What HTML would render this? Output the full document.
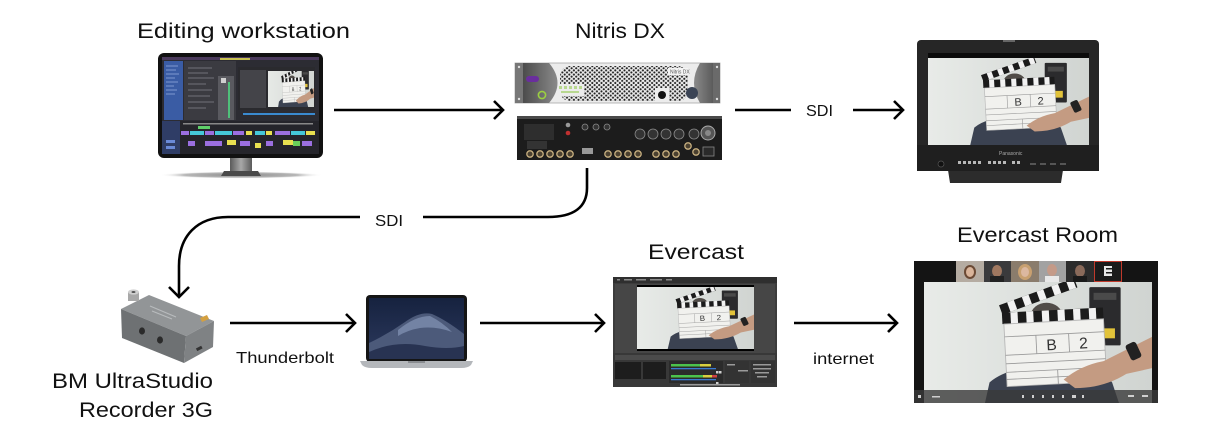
<!DOCTYPE html>
<html><head><meta charset="utf-8">
<style>
html,body{margin:0;padding:0;background:#fff;}
svg{display:block;}
.t{font-family:"Liberation Sans",Arial,sans-serif;fill:#111;}
</style></head>
<body>
<svg width="1227" height="441" viewBox="0 0 1227 441" xmlns="http://www.w3.org/2000/svg" xmlns:xlink="http://www.w3.org/1999/xlink">
<defs>
  <linearGradient id="sbg" x1="0" x2="1" y1="0" y2="0">
    <stop offset="0" stop-color="#e8ebe8"/><stop offset="1" stop-color="#d0d4d1"/>
  </linearGradient>
  <linearGradient id="neck" x1="0" x2="1">
    <stop offset="0" stop-color="#5a5a5a"/><stop offset="0.5" stop-color="#a8a8a8"/><stop offset="1" stop-color="#5a5a5a"/>
  </linearGradient>
  <radialGradient id="shadow" cx="0.5" cy="0.5" r="0.5">
    <stop offset="0" stop-color="#8a8a8a"/><stop offset="0.7" stop-color="#b8b8b8"/><stop offset="1" stop-color="#ffffff" stop-opacity="0"/>
  </radialGradient>
  <linearGradient id="ldark" x1="0" x2="1">
    <stop offset="0" stop-color="#4a4a4a"/><stop offset="1" stop-color="#8a8a8a"/>
  </linearGradient>
  <linearGradient id="rdark" x1="0" x2="1">
    <stop offset="0" stop-color="#8a8a8a"/><stop offset="1" stop-color="#4a4a4a"/>
  </linearGradient>
  <pattern id="dots" width="4.6" height="4.2" patternUnits="userSpaceOnUse">
    <circle cx="1.2" cy="1.1" r="1.05" fill="#222"/>
    <circle cx="3.5" cy="3.2" r="1.05" fill="#222"/>
  </pattern>
  <linearGradient id="sky" x1="0" y1="0" x2="0" y2="1">
    <stop offset="0" stop-color="#16223f"/><stop offset="1" stop-color="#2c3a5e"/>
  </linearGradient>
  <clipPath id="roomclip"><rect x="924" y="282" width="228" height="121"/></clipPath>
  <clipPath id="viewclip"><rect x="268" y="71" width="46" height="36"/></clipPath>

  <symbol id="scene" viewBox="0 0 160 90" preserveAspectRatio="none">
    <rect width="160" height="90" fill="url(#sbg)"/>
    <path d="M46,72 Q60,60 90,61 Q122,59 132,72 L138,90 L42,90 Z" fill="#3b4251"/>
    <ellipse cx="86" cy="25" rx="11" ry="9" fill="#514c48"/>
    <rect x="116" y="5" width="22" height="41" rx="1" fill="#2b2b2d"/>
    <rect x="119" y="9" width="16" height="5" fill="#4a4a4a"/>
    <rect x="124" y="34" width="10" height="7" fill="#e2c33a"/>
    <g transform="rotate(-20 56 24)">
      <rect x="55" y="17" width="56" height="7" fill="#1b1b1b"/>
      <rect x="61" y="17" width="5" height="7" fill="#f2f2f2"/>
      <rect x="72" y="17" width="5" height="7" fill="#f2f2f2"/>
      <rect x="83" y="17" width="5" height="7" fill="#f2f2f2"/>
      <rect x="94" y="17" width="5" height="7" fill="#f2f2f2"/>
      <rect x="105" y="17" width="5" height="7" fill="#f2f2f2"/>
    </g>
    <g transform="rotate(-3 56 30)">
      <rect x="55" y="23" width="71" height="8" fill="#1b1b1b"/>
      <rect x="61" y="23" width="5" height="8" fill="#f2f2f2"/>
      <rect x="72" y="23" width="5" height="8" fill="#f2f2f2"/>
      <rect x="83" y="23" width="5" height="8" fill="#f2f2f2"/>
      <rect x="94" y="23" width="5" height="8" fill="#f2f2f2"/>
      <rect x="105" y="23" width="5" height="8" fill="#f2f2f2"/>
      <rect x="116" y="23" width="5" height="8" fill="#f2f2f2"/>
      <rect x="56" y="31" width="70" height="44" fill="#f1f1ee" stroke="#b5b5b5" stroke-width="0.6"/>
      <line x1="56" y1="40" x2="126" y2="40" stroke="#999" stroke-width="0.6"/>
      <line x1="56" y1="53" x2="126" y2="53" stroke="#999" stroke-width="0.6"/>
      <line x1="56" y1="59" x2="126" y2="59" stroke="#999" stroke-width="0.6"/>
      <line x1="56" y1="65" x2="126" y2="65" stroke="#999" stroke-width="0.6"/>
      <line x1="56" y1="70" x2="126" y2="70" stroke="#999" stroke-width="0.6"/>
      <line x1="78" y1="40" x2="78" y2="53" stroke="#999" stroke-width="0.6"/>
      <line x1="101" y1="40" x2="101" y2="53" stroke="#999" stroke-width="0.6"/>
      <line x1="92" y1="65" x2="92" y2="75" stroke="#999" stroke-width="0.6"/>
      <text x="85" y="51" font-family="Liberation Sans, sans-serif" font-size="11" fill="#333">B</text>
      <text x="108" y="51" font-family="Liberation Sans, sans-serif" font-size="11" fill="#333">2</text>
    </g>
    <path d="M98,70 Q110,60 126,57 L146,47 L160,40 L160,62 L142,66 Q126,76 106,76 Z" fill="#c49b82"/>
    <rect x="143" y="44" width="8" height="12" rx="2" fill="#222" transform="rotate(-25 147 50)"/>
  </symbol>
</defs>

<rect width="1227" height="441" fill="#fff"/>

<!-- ===== Titles ===== -->
<text class="t" x="137" y="38" font-size="21" textLength="213" lengthAdjust="spacingAndGlyphs">Editing workstation</text>
<text class="t" x="575" y="38" font-size="21" textLength="90" lengthAdjust="spacingAndGlyphs">Nitris DX</text>
<text class="t" x="648" y="259" font-size="21" textLength="96" lengthAdjust="spacingAndGlyphs">Evercast</text>
<text class="t" x="957" y="242" font-size="21" textLength="161" lengthAdjust="spacingAndGlyphs">Evercast Room</text>
<text class="t" x="52" y="388" font-size="21" textLength="161" lengthAdjust="spacingAndGlyphs">BM UltraStudio</text>
<text class="t" x="79" y="417" font-size="21" textLength="134" lengthAdjust="spacingAndGlyphs">Recorder 3G</text>

<!-- ===== Labels ===== -->
<text class="t" x="806" y="116" font-size="16" textLength="27" lengthAdjust="spacingAndGlyphs">SDI</text>
<text class="t" x="375" y="226" font-size="16" textLength="28" lengthAdjust="spacingAndGlyphs">SDI</text>
<text class="t" x="236" y="363" font-size="16" textLength="98" lengthAdjust="spacingAndGlyphs">Thunderbolt</text>
<text class="t" x="813" y="364" font-size="16" textLength="61" lengthAdjust="spacingAndGlyphs">internet</text>

<!-- ===== Connectors ===== -->
<g fill="none" stroke="#000" stroke-width="2.6" stroke-linecap="butt" stroke-linejoin="miter">
  <path d="M334,110 H503"/><path d="M494,101 L503,110 L494,119"/>
  <path d="M735,110 H791"/>
  <path d="M853,110 H903"/><path d="M894,101 L903,110 L894,119"/>
  <path d="M587,168 V188 C587,207 574,217 548,217 H423"/>
  <path d="M360,217 H228 C197,217 179,236 179,266 V297"/>
  <path d="M169,287 L179,297 L189,287"/>
  <path d="M230,323 H355"/><path d="M346,314 L355,323 L346,332"/>
  <path d="M480,323 H604"/><path d="M595,314 L604,323 L595,332"/>
  <path d="M794,323 H897"/><path d="M888,314 L897,323 L888,332"/>
</g>

<!-- ===== Editing workstation (monitor) ===== -->
<ellipse cx="241" cy="175" rx="82" ry="3.5" fill="url(#shadow)"/>
<rect x="230" y="157" width="22" height="14" fill="url(#neck)"/>
<path d="M224,171 H258 L261,176 H221 Z" fill="#4a4a4a"/>
<rect x="158" y="53" width="165" height="105" rx="6" fill="#111"/>
<rect x="162" y="57" width="157" height="97" fill="#2c2c33"/>
<rect x="162" y="57" width="157" height="3" fill="#4b3a5c"/>
<rect x="220" y="58" width="30" height="2" fill="#c8c050"/>
<rect x="164" y="61" width="19" height="59" fill="#3a5ca4"/>
<g stroke="#8fa8dd" stroke-width="0.8">
  <line x1="166" y1="66" x2="178" y2="66"/><line x1="166" y1="70" x2="176" y2="70"/>
  <line x1="166" y1="74" x2="179" y2="74"/><line x1="166" y1="78" x2="175" y2="78"/>
  <line x1="166" y1="82" x2="178" y2="82"/><line x1="166" y1="86" x2="174" y2="86"/>
  <line x1="166" y1="90" x2="177" y2="90"/><line x1="166" y1="94" x2="175" y2="94"/>
</g>
<rect x="184" y="61" width="52" height="59" fill="#3b3b41"/>
<g stroke="#85858c" stroke-width="0.7">
  <line x1="188" y1="68" x2="212" y2="68"/><line x1="188" y1="73" x2="208" y2="73"/>
  <line x1="188" y1="78" x2="214" y2="78"/><line x1="188" y1="84" x2="206" y2="84"/>
  <line x1="188" y1="90" x2="212" y2="90"/><line x1="188" y1="96" x2="210" y2="96"/>
  <line x1="188" y1="102" x2="214" y2="102"/><line x1="188" y1="108" x2="206" y2="108"/>
</g>
<rect x="218" y="76" width="16" height="44" fill="#5a5a60"/>
<rect x="221" y="78" width="5" height="5" fill="#d0d0d0"/>
<rect x="228" y="82" width="2" height="36" fill="#4fc07a"/>
<rect x="238" y="67" width="77" height="43" fill="#2a2a2e"/>
<rect x="240" y="70" width="26" height="38" fill="#444449"/>
<g clip-path="url(#viewclip)"><use xlink:href="#scene" href="#scene" x="264" y="68" width="52" height="42"/></g>
<rect x="243" y="113" width="72" height="2" fill="#3a8ad0"/>
<rect x="162" y="121" width="157" height="33" fill="#25252b"/>
<rect x="162" y="121" width="18" height="33" fill="#2f3d66"/>
<rect x="183" y="123" width="130" height="1.5" fill="#888"/>
<rect x="198" y="126" width="12" height="3" fill="#5fd06a"/>
<g>
  <rect x="181" y="131" width="8" height="4" fill="#9b6fe0"/>
  <rect x="190" y="131" width="14" height="4" fill="#45c8d8"/>
  <rect x="205" y="131" width="9" height="4" fill="#9b6fe0"/>
  <rect x="215" y="131" width="17" height="4" fill="#45c8d8"/>
  <rect x="233" y="131" width="11" height="4" fill="#9b6fe0"/>
  <rect x="246" y="131" width="6" height="4" fill="#e8e050"/>
  <rect x="255" y="131" width="10" height="4" fill="#45c8d8"/>
  <rect x="266" y="131" width="6" height="4" fill="#e8e050"/>
  <rect x="275" y="131" width="15" height="4" fill="#9b6fe0"/>
  <rect x="291" y="131" width="14" height="4" fill="#45c8d8"/>
  <rect x="306" y="131" width="9" height="4" fill="#e8e050"/>
  <rect x="188" y="141" width="7" height="5" fill="#9b6fe0"/>
  <rect x="205" y="141" width="17" height="5" fill="#9b6fe0"/>
  <rect x="227" y="140" width="9" height="5" fill="#e8e050"/>
  <rect x="240" y="141" width="10" height="5" fill="#9b6fe0"/>
  <rect x="255" y="143" width="6" height="5" fill="#e8e050"/>
  <rect x="266" y="141" width="7" height="5" fill="#9b6fe0"/>
  <rect x="283" y="140" width="10" height="5" fill="#e8e050"/>
  <rect x="293" y="141" width="7" height="5" fill="#6ad05a"/>
  <rect x="302" y="141" width="10" height="5" fill="#9b6fe0"/>
  <rect x="166" y="140" width="9" height="3" fill="#6a8ad8"/>
  <rect x="166" y="146" width="9" height="3" fill="#6a8ad8"/>
</g>

<!-- ===== Nitris DX front ===== -->
<rect x="515" y="63" width="205" height="40" fill="#ececec" stroke="#a8a8a8" stroke-width="0.8"/>
<path d="M522,63 H549 Q566,83 549,103 H522 Z" fill="url(#ldark)"/>
<rect x="515" y="63" width="8" height="40" fill="#777"/>
<circle cx="519" cy="67" r="1.2" fill="#ddd"/><circle cx="519" cy="99" r="1.2" fill="#ddd"/>
<rect x="526" y="76" width="13" height="6" rx="3" fill="#6a2e9e"/>
<circle cx="542" cy="95" r="3.6" fill="none" stroke="#9bd040" stroke-width="1.6"/>
<rect x="560" y="66" width="128" height="35" rx="10" fill="url(#dots)"/>
<rect x="558" y="84" width="26" height="12" fill="#ececec"/>
<g fill="#b8d890"><rect x="559" y="86" width="3" height="3"/><rect x="564" y="86" width="3" height="3"/><rect x="569" y="86" width="3" height="3"/><rect x="574" y="86" width="3" height="3"/><rect x="579" y="86" width="3" height="3"/><rect x="561" y="91" width="18" height="2"/></g>
<rect x="655" y="88" width="14" height="13" fill="#ececec"/>
<circle cx="662" cy="95" r="4" fill="#111"/>
<path d="M720,63 H700 Q688,83 700,103 H720 Z" fill="url(#rdark)"/>
<rect x="713" y="63" width="7" height="40" fill="#6a6a6a"/>
<circle cx="717" cy="67" r="1.2" fill="#ddd"/><circle cx="717" cy="99" r="1.2" fill="#ddd"/>
<circle cx="692" cy="93" r="6" fill="#3b4455"/>
<rect x="668" y="68" width="20" height="7" fill="#f4f4f4"/>
<text x="670" y="73.5" font-family="Liberation Sans, sans-serif" font-size="5" fill="#555">Nitris DX</text>

<!-- ===== Nitris DX back ===== -->
<rect x="517" y="116" width="205" height="44" fill="#1c1c1c"/>
<rect x="517" y="116" width="205" height="3" fill="#4a4a4a"/>
<rect x="524" y="124" width="30" height="16" fill="#2e2e2e"/>
<rect x="527" y="141" width="20" height="8" fill="#333"/>
<circle cx="568" cy="133" r="2.3" fill="#c03030"/>
<circle cx="568" cy="125" r="2.3" fill="#999"/>
<g fill="#333" stroke="#8a8a8a" stroke-width="0.8">
  <circle cx="585" cy="127" r="3"/><circle cx="596" cy="127" r="3"/><circle cx="607" cy="127" r="3"/>
  <circle cx="640" cy="134" r="5"/><circle cx="653" cy="134" r="5"/><circle cx="666" cy="134" r="5"/><circle cx="679" cy="134" r="5"/><circle cx="694" cy="134" r="5"/>
</g>
<g fill="#4a4030" stroke="#c8b080" stroke-width="1.3">
  <circle cx="530" cy="154" r="3.2"/><circle cx="540" cy="154" r="3.2"/><circle cx="550" cy="154" r="3.2"/><circle cx="560" cy="154" r="3.2"/><circle cx="570" cy="154" r="3.2"/>
  <circle cx="608" cy="154" r="3.2"/><circle cx="618" cy="154" r="3.2"/><circle cx="628" cy="154" r="3.2"/><circle cx="638" cy="154" r="3.2"/>
  <circle cx="656" cy="154" r="3.2"/><circle cx="666" cy="154" r="3.2"/><circle cx="676" cy="154" r="3.2"/>
  <circle cx="688" cy="146" r="3.2"/><circle cx="696" cy="152" r="3.2"/>
</g>
<rect x="582" y="148" width="11" height="6" fill="#999"/>
<circle cx="708" cy="133" r="7" fill="#555" stroke="#aaa" stroke-width="1"/>
<circle cx="708" cy="133" r="3" fill="#888"/>
<rect x="703" y="147" width="11" height="9" fill="#2a2a2a" stroke="#888" stroke-width="0.8"/>

<!-- ===== Right monitor ===== -->
<path d="M948,170 H1063 L1061,183 H950 Z" fill="#2c2c2c"/>
<rect x="917" y="40" width="182" height="131" rx="4" fill="#262626"/>
<rect x="1003" y="40" width="12" height="2" fill="#666"/>
<rect x="928" y="53" width="161" height="5" fill="#0b0b0b"/>
<use xlink:href="#scene" href="#scene" x="928" y="58" width="161" height="87"/>
<rect x="917" y="145" width="182" height="26" fill="#1f1f1f"/>
<text x="999" y="155" font-family="Liberation Sans, sans-serif" font-size="5" fill="#aaa">Panasonic</text>
<circle cx="941" cy="164" r="3" fill="#111" stroke="#555" stroke-width="0.7"/>
<g fill="#b8b8b8">
  <rect x="958" y="161" width="3" height="3"/><rect x="963" y="161" width="3" height="3"/><rect x="968" y="161" width="3" height="3"/><rect x="973" y="161" width="3" height="3"/><rect x="978" y="161" width="3" height="3"/>
  <rect x="988" y="161" width="3" height="3"/><rect x="993" y="161" width="3" height="3"/><rect x="998" y="161" width="3" height="3"/><rect x="1003" y="161" width="3" height="3"/>
  <rect x="1012" y="161" width="3" height="3"/><rect x="1017" y="161" width="3" height="3"/>
</g>
<g fill="#555"><rect x="1030" y="163" width="6" height="2"/><rect x="1040" y="163" width="6" height="2"/><rect x="1050" y="163" width="6" height="2"/><rect x="1060" y="163" width="6" height="2"/></g>

<!-- ===== BM UltraStudio box ===== -->
<polygon points="121,309 149,295 214,321 186,336" fill="#929597"/>
<polygon points="121,309 186,336 184,363 122,338" fill="#6e7173"/>
<polygon points="186,336 214,321 213,347 184,363" fill="#7f8284"/>
<line x1="150" y1="306" x2="176" y2="317" stroke="#b8bbbd" stroke-width="1.2"/>
<line x1="152" y1="311" x2="172" y2="319" stroke="#b8bbbd" stroke-width="1.2"/>
<polygon points="200,318 207,315 209,319 202,322" fill="#d4a040"/>
<ellipse cx="142" cy="331" rx="3" ry="3.6" fill="#2a2a2a"/>
<ellipse cx="160" cy="340" rx="3" ry="3.6" fill="#2a2a2a"/>
<rect x="196" y="347" width="6" height="3" fill="#333" transform="rotate(-28 199 348)"/>
<rect x="128" y="292" width="11" height="9" fill="#a8a8a8"/>
<ellipse cx="133.5" cy="292" rx="5.5" ry="2.6" fill="#d0d0d0"/>
<ellipse cx="133.5" cy="292" rx="2" ry="1" fill="#555"/>

<!-- ===== Laptop ===== -->
<rect x="366" y="295" width="101" height="67" rx="4" fill="#151515"/>
<rect x="369" y="298" width="95" height="61" fill="url(#sky)"/>
<path d="M369,343 Q388,334 405,322 Q420,311 432,314 Q446,320 464,334 V359 H369 Z" fill="#4c5a7a"/>
<path d="M398,330 Q415,316 430,316 Q442,322 452,332 Q436,326 420,328 Q408,330 398,336 Z" fill="#7383a4"/>
<path d="M369,352 Q395,340 425,346 Q448,350 464,346 V359 H369 Z" fill="#283352"/>
<path d="M360,361 H473 L471,365 Q468,368 461,368 H372 Q365,368 362,365 Z" fill="#b4b7bb"/>
<rect x="408" y="361" width="17" height="2" fill="#8a8d91"/>

<!-- ===== Evercast screenshot ===== -->
<rect x="613" y="277" width="164" height="110" fill="#3c3c3c"/>
<rect x="613" y="277" width="164" height="6" fill="#2f2f2f"/>
<g fill="#8a8a8a"><rect x="617" y="279" width="3" height="1.5"/><rect x="624" y="279" width="8" height="1.5"/><rect x="636" y="279" width="10" height="1.5"/><rect x="650" y="279" width="12" height="1.5"/><rect x="666" y="279" width="6" height="1.5"/></g>
<rect x="615" y="284" width="160" height="69" fill="#464646"/>
<rect x="637" y="285" width="117" height="66" fill="#000"/>
<use xlink:href="#scene" href="#scene" x="637" y="287" width="117" height="62"/>
<rect x="613" y="353" width="164" height="34" fill="#383838"/>
<rect x="615" y="355" width="160" height="5" fill="#4b4b4b"/>
<rect x="615" y="362" width="26" height="17" fill="#1d1d1d"/>
<rect x="643" y="362" width="23" height="17" fill="#1d1d1d"/>
<rect x="669" y="361" width="54" height="22" fill="#2b2b2b"/>
<rect x="671" y="364" width="29" height="2.5" fill="#4cc24c"/>
<rect x="700" y="364" width="11" height="2.5" fill="#d8d040"/>
<rect x="671" y="368" width="45" height="1.3" fill="#3a7ad0"/>
<rect x="671" y="375" width="32" height="2.5" fill="#4cc24c"/>
<rect x="703" y="375" width="9" height="2.5" fill="#d8d040"/>
<rect x="712" y="375" width="5" height="2.5" fill="#d04040"/>
<rect x="671" y="379" width="45" height="1.3" fill="#3a7ad0"/>
<g fill="#cfcfcf"><rect x="716" y="371" width="2.5" height="2.5"/><rect x="719" y="371" width="2.5" height="2.5"/><rect x="716" y="382" width="2.5" height="2.5"/></g>
<rect x="725" y="361" width="24" height="22" fill="#333"/>
<rect x="751" y="361" width="24" height="22" fill="#333"/>
<g fill="#9a9a9a"><rect x="727" y="364" width="8" height="1.5"/><rect x="738" y="370" width="10" height="1.5"/><rect x="753" y="364" width="18" height="1.5"/><rect x="753" y="368" width="18" height="1.5"/><rect x="755" y="372" width="14" height="1.5"/><rect x="757" y="376" width="10" height="1.5"/><rect x="680" y="384" width="60" height="1.5"/></g>

<!-- ===== Evercast Room ===== -->
<rect x="914" y="261" width="244" height="142" fill="#141414"/>
<g clip-path="url(#roomclip)">
  <use xlink:href="#scene" href="#scene" x="924" y="280" width="228" height="128"/>
</g>
<!-- participants -->
<rect x="956" y="261" width="28" height="21" fill="#b5aca2"/>
<ellipse cx="970" cy="272" rx="6" ry="7" fill="#6b4a35"/><ellipse cx="970" cy="272" rx="4" ry="5" fill="#d9b49a"/>
<rect x="984" y="261" width="27" height="21" fill="#3a3a3c"/>
<ellipse cx="997" cy="271" rx="5" ry="6" fill="#a07860"/><rect x="990" y="276" width="14" height="6" fill="#222"/>
<rect x="1011" y="261" width="28" height="21" fill="#8a7c6c"/>
<ellipse cx="1025" cy="272" rx="7" ry="8" fill="#c8a070"/><ellipse cx="1025" cy="272" rx="4" ry="5" fill="#dcb8a0"/>
<rect x="1039" y="261" width="27" height="21" fill="#a2a2a2"/>
<ellipse cx="1052" cy="270" rx="5" ry="6" fill="#c49a88"/><rect x="1045" y="276" width="14" height="6" fill="#e8e8e8"/>
<rect x="1066" y="261" width="28" height="21" fill="#2c2c2c"/>
<ellipse cx="1080" cy="271" rx="5" ry="6" fill="#8a6a5a"/><rect x="1073" y="276" width="14" height="6" fill="#1a1a1a"/>
<rect x="1094.5" y="261.5" width="27" height="20" fill="#1b1b1b" stroke="#c0392b" stroke-width="1"/>
<rect x="1104" y="266" width="8" height="10" fill="#e8e8e8"/>
<rect x="1106" y="268" width="6" height="1.5" fill="#1b1b1b"/><rect x="1106" y="272" width="6" height="1.5" fill="#1b1b1b"/>
<!-- bottom toolbar -->
<rect x="914" y="390" width="244" height="13" fill="#3a3a3a" fill-opacity="0.8"/>
<g fill="#cfcfcf"><rect x="918" y="395" width="3" height="3"/><rect x="932" y="396" width="8" height="1.5"/>
<rect x="1022" y="395" width="2" height="3"/><rect x="1032" y="395" width="2" height="3"/><rect x="1042" y="395" width="2" height="3"/><rect x="1052" y="395" width="2" height="3"/><rect x="1062" y="395" width="2" height="3"/><rect x="1072" y="395" width="4" height="3"/><rect x="1082" y="395" width="2" height="3"/>
<rect x="1128" y="395" width="6" height="2"/><rect x="1142" y="395" width="6" height="2"/></g>
</svg>
</body></html>
